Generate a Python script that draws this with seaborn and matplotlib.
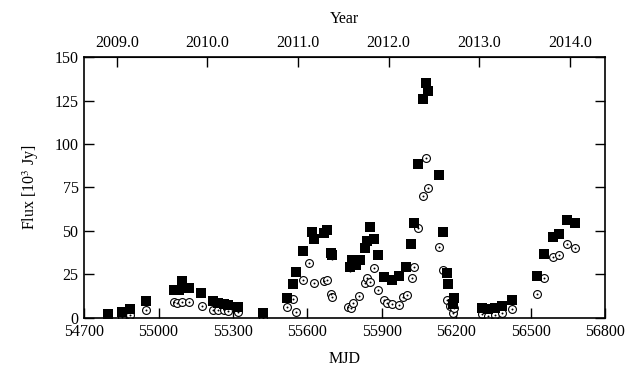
import numpy as np
import pandas as pd
import seaborn as sns
import matplotlib.pyplot as plt

# filled squares
sq_mjd = [54797, 54853, 54885, 54950, 55063, 55083, 55095, 55123, 55172, 55220, 55240, 55265,
          55281, 55321, 55422, 55519, 55543, 55555, 55583, 55619, 55627, 55668, 55680, 55696,
          55700, 55773, 55781, 55797, 55813, 55833, 55841, 55853, 55869, 55885, 55910, 55942,
          55970, 55998, 56019, 56031, 56047, 56067, 56079, 56087, 56131, 56148, 56164, 56168,
          56188, 56192, 56305, 56329, 56357, 56385, 56426, 56527, 56555, 56591, 56615, 56648,
          56680]
sq_flux = [2.0, 3.4, 5.0, 9.5, 16.0, 16.0, 21.5, 17.0, 14.5, 9.8, 8.6, 8.0,
           7.5, 6.3, 2.9, 11.5, 19.5, 26.5, 38.5, 49.5, 45.5, 49.0, 50.5, 37.5,
           36.0, 29.3, 33.3, 30.5, 33.3, 40.0, 44.3, 52.3, 45.4, 36.0, 23.6, 21.8,
           24.0, 29.3, 42.5, 54.6, 88.5, 126.0, 135.0, 130.5, 82.2, 49.4, 25.9, 19.5,
           8.0, 11.5, 5.7, 5.0, 5.7, 7.0, 10.3, 24.0, 37.0, 46.5, 48.3, 56.3,
           54.6]
sq_err = [1, 1, 1, 1, 1, 1, 1, 1, 1, 1, 1, 1,
          1, 1, 1, 1, 1, 1, 1, 1, 1, 2, 2.5, 2.5,
          2.5, 3, 3, 2.5, 2.5, 1, 1, 1, 1, 1, 1, 1,
          1, 1, 1, 1, 2, 1, 1, 1, 1, 1, 1, 1,
          1, 1, 1, 1, 1, 1, 1, 1, 1, 1, 1, 1,
          1]

# open circles
ci_mjd = [54797, 54853, 54885, 54950, 55063, 55075, 55095, 55123, 55176, 55220, 55240, 55265,
          55281, 55321, 55422, 55519, 55543, 55555, 55583, 55607, 55627, 55668, 55680, 55696,
          55700, 55765, 55777, 55785, 55809, 55833, 55841, 55853, 55869, 55885, 55910, 55922,
          55942, 55970, 55986, 56002, 56023, 56031, 56047, 56067, 56079, 56087, 56131, 56148,
          56160, 56164, 56176, 56188, 56192, 56305, 56329, 56357, 56385, 56426, 56527, 56555,
          56591, 56615, 56648, 56680]
ci_flux = [0.3, 0.6, 1.7, 4.6, 9.0, 8.5, 9.0, 9.0, 7.0, 4.6, 4.6, 4.6,
           4.0, 3.4, 0.0, 6.3, 11.0, 3.4, 21.8, 31.6, 20.0, 21.3, 21.8, 13.8,
           12.0, 6.3, 5.7, 8.6, 12.6, 20.0, 23.0, 20.7, 29.0, 16.0, 10.3, 8.6,
           8.0, 7.5, 12.0, 13.0, 23.0, 29.3, 51.7, 70.0, 92.0, 74.5, 40.8, 27.6,
           25.9, 10.3, 7.0, 2.9, 5.7, 2.3, 1.1, 1.7, 2.9, 5.2, 13.8, 23.0,
           35.0, 36.2, 42.5, 40.2]

year_ticks = [2009.0, 2010.0, 2011.0, 2012.0, 2013.0, 2014.0]

sns.set_style("ticks")
plt.rcParams['font.family'] = ['Liberation Serif', 'DejaVu Serif']
plt.rcParams['mathtext.fontset'] = 'stix'
plt.rcParams['font.size'] = 11.5
for k in ['axes.edgecolor', 'axes.labelcolor', 'text.color', 'xtick.color', 'ytick.color']:
    plt.rcParams[k] = 'black'

sq = pd.DataFrame({'MJD': sq_mjd, 'Flux': sq_flux, 'err': sq_err})
ci = pd.DataFrame({'MJD': ci_mjd, 'Flux': ci_flux})

fig = plt.figure(figsize=(6.37, 3.68), dpi=100)
ax = fig.add_axes([0.132, 0.136, 0.818, 0.709])

# circles with a dot in the middle
sns.scatterplot(data=ci, x='MJD', y='Flux', ax=ax, marker='o', s=32,
                facecolor='white', edgecolor='black', linewidth=0.8, zorder=2)
sns.scatterplot(data=ci, x='MJD', y='Flux', ax=ax, marker='o', s=2,
                color='black', edgecolor='black', linewidth=0, zorder=3)

ax.errorbar(sq['MJD'], sq['Flux'], yerr=sq['err'], fmt='none', ecolor='black',
            elinewidth=1, capsize=0, zorder=4)
sns.scatterplot(data=sq, x='MJD', y='Flux', ax=ax, marker='s', s=48,
                color='black', edgecolor='black', linewidth=0, zorder=5)

ax.set_xlim(54700, 56800)
ax.set_ylim(0, 150)
ax.set_xticks(np.arange(54700, 56801, 300))
ax.set_yticks(np.arange(0, 151, 25))
ax.set_xlabel('MJD', labelpad=8)
ax.set_ylabel('Flux [10$^3$ Jy]', labelpad=10)
ax.tick_params(direction='in', length=7, width=1, right=True, top=False,
               labelsize=11.5, pad=4)
for s in ax.spines.values():
    s.set_linewidth(1.2)
    s.set_visible(True)


def mjd2year(m):
    return 2000 + (np.asarray(m) - 51544.5) / 365.25


def year2mjd(y):
    return 51544.5 + (np.asarray(y) - 2000) * 365.25


top = ax.secondary_xaxis('top', functions=(mjd2year, year2mjd))
top.set_xticks(year_ticks)
top.set_xticklabels(['%.1f' % y for y in year_ticks])
top.tick_params(direction='in', length=7, width=1, labelsize=11.5, pad=4)
top.set_xlabel('Year', labelpad=9)

fig.savefig('out.png', dpi=100)
